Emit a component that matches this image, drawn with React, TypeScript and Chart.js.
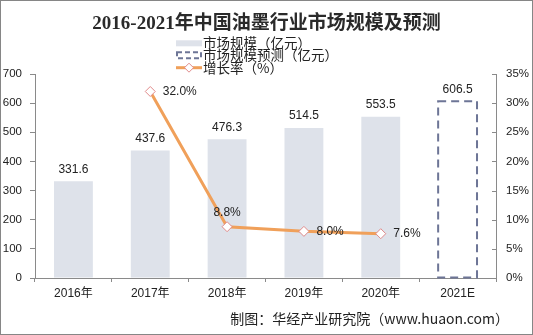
import React, { useEffect, useRef } from 'react';
import { Chart, registerables } from 'chart.js';

Chart.register(...registerables);

const titleText = '2016-2021年中国油墨行业市场规模及预测';
const categories = ['2016年', '2017年', '2018年', '2019年', '2020年', '2021E'];
const marketSize = [331.6, 437.6, 476.3, 514.5, 553.5, null];
const forecastSize = [null, null, null, null, null, 606.5];
const growthRate = [null, 32.0, 8.8, 8.0, 7.6, null];
const legendLabels = ['市场规模（亿元）', '市场规模预测（亿元）', '增长率（%）'];
const sourceText = '制图：华经产业研究院（www.huaon.com）';

const SANS = '"Liberation Sans", "Noto Sans CJK SC", sans-serif';
const CJK = '"Noto Sans CJK SC", "Liberation Sans", sans-serif';
const BAR_COLOR = '#DEE2EA';
const FORECAST_COLOR = '#6D7596';
const LINE_COLOR = '#F0A05A';
const MARKER_BORDER = '#E08A8A';
const AXIS_COLOR = '#8a8a8a';
const TEXT_COLOR = '#222';

export default function App() {
  const ref = useRef<HTMLCanvasElement>(null);

  useEffect(() => {
    document.body.style.margin = '0';
    const canvas = ref.current!;

    const overlay = {
      id: 'overlay',
      afterDatasetsDraw(chart: any) {
        const ctx = chart.ctx;
        ctx.save();
        // forecast dashed bar
        const fMeta = chart.getDatasetMeta(1);
        fMeta.data.forEach((el: any, i: number) => {
          if (forecastSize[i] == null) return;
          const p = el.getProps(['x', 'y', 'base', 'width'], true);
          ctx.save();
          ctx.strokeStyle = FORECAST_COLOR;
          ctx.lineWidth = 2;
          ctx.setLineDash([8, 5]);
          ctx.strokeRect(p.x - p.width / 2, p.y, p.width, p.base - p.y);
          ctx.restore();
        });
        // bar value labels
        ctx.font = `12px ${SANS}`;
        ctx.fillStyle = TEXT_COLOR;
        ctx.textBaseline = 'middle';
        ctx.textAlign = 'center';
        [0, 1].forEach((di) => {
          const meta = chart.getDatasetMeta(di);
          const data = chart.data.datasets[di].data;
          meta.data.forEach((el: any, i: number) => {
            const v = data[i];
            if (v == null) return;
            const p = el.getProps(['x', 'y'], true);
            ctx.fillText(Number(v).toFixed(1), p.x, p.y - 12);
          });
        });
        // growth labels
        const lMeta = chart.getDatasetMeta(2);
        lMeta.data.forEach((el: any, i: number) => {
          const v = growthRate[i];
          if (v == null) return;
          const p = el.getProps(['x', 'y'], true);
          const t = v.toFixed(1) + '%';
          if (i === 2) {
            ctx.textAlign = 'center';
            ctx.fillText(t, p.x, p.y - 14);
          } else {
            ctx.textAlign = 'left';
            ctx.fillText(t, p.x + 12.5, p.y);
          }
        });
        ctx.restore();
      },
      afterDraw(chart: any) {
        const ctx = chart.ctx;
        ctx.save();
        // right axis inner tick marks
        const y1 = chart.scales.y1;
        ctx.strokeStyle = AXIS_COLOR;
        ctx.lineWidth = 1;
        y1.ticks.forEach((t: any) => {
          const yy = Math.round(y1.getPixelForValue(t.value)) + 0.5;
          ctx.beginPath();
          ctx.moveTo(y1.left - 4, yy);
          ctx.lineTo(y1.left, yy);
          ctx.stroke();
        });
        // legend
        const sx = 176, sw = 26, tx = 203;
        const rows = [43.3, 55.3, 67.7];
        ctx.fillStyle = BAR_COLOR;
        ctx.fillRect(sx, rows[0] - 3, sw, 6);
        ctx.save();
        ctx.strokeStyle = FORECAST_COLOR;
        ctx.lineWidth = 2;
        ctx.setLineDash([5, 3]);
        ctx.strokeRect(sx + 1, rows[1] - 3, sw - 2, 6);
        ctx.restore();
        ctx.strokeStyle = LINE_COLOR;
        ctx.lineWidth = 3;
        ctx.beginPath();
        ctx.moveTo(sx, rows[2]);
        ctx.lineTo(sx + sw, rows[2]);
        ctx.stroke();
        const cx = sx + sw / 2, r = 4.5;
        ctx.beginPath();
        ctx.moveTo(cx, rows[2] - r);
        ctx.lineTo(cx + r, rows[2]);
        ctx.lineTo(cx, rows[2] + r);
        ctx.lineTo(cx - r, rows[2]);
        ctx.closePath();
        ctx.fillStyle = '#fff';
        ctx.fill();
        ctx.strokeStyle = MARKER_BORDER;
        ctx.lineWidth = 1;
        ctx.stroke();
        ctx.font = `13.5px ${CJK}`;
        ctx.fillStyle = TEXT_COLOR;
        ctx.textAlign = 'left';
        ctx.textBaseline = 'middle';
        legendLabels.forEach((l, i) => ctx.fillText(l, tx, rows[i]));
        // source
        ctx.font = `14px ${CJK}`;
        ctx.textAlign = 'right';
        ctx.fillText(sourceText, 509, 319);
        // border
        ctx.strokeStyle = '#868686';
        ctx.lineWidth = 1;
        ctx.strokeRect(0.5, 0.5, 532, 334);
        ctx.restore();
      },
    };

    const chart = new Chart(canvas, {
      type: 'bar',
      data: {
        labels: categories,
        datasets: [
          {
            type: 'bar',
            label: legendLabels[0],
            data: marketSize,
            backgroundColor: BAR_COLOR,
            borderWidth: 0,
            grouped: false,
            categoryPercentage: 1,
            barPercentage: 0.506,
            yAxisID: 'y',
            order: 2,
          },
          {
            type: 'bar',
            label: legendLabels[1],
            data: forecastSize,
            backgroundColor: 'rgba(0,0,0,0)',
            borderWidth: 0,
            grouped: false,
            categoryPercentage: 1,
            barPercentage: 0.506,
            yAxisID: 'y',
            order: 1,
          },
          {
            type: 'line',
            label: legendLabels[2],
            data: growthRate,
            borderColor: LINE_COLOR,
            borderWidth: 3,
            pointStyle: 'rectRot',
            pointRadius: 5,
            pointBackgroundColor: '#fff',
            pointBorderColor: MARKER_BORDER,
            pointBorderWidth: 1,
            tension: 0,
            yAxisID: 'y1',
            order: 0,
          },
        ] as any,
      },
      options: {
        animation: false,
        responsive: false,
        events: [],
        layout: { padding: 0 },
        plugins: {
          legend: { display: false },
          tooltip: { enabled: false },
          title: {
            display: true,
            text: titleText,
            color: '#2a2a2a',
            font: { size: 19, weight: 'bold', family: '"Liberation Serif", "Noto Sans CJK SC", serif' },
            padding: { top: 13, bottom: 38.2 },
          },
        },
        scales: {
          x: {
            grid: { drawOnChartArea: false, color: AXIS_COLOR, tickLength: 4, offset: true },
            border: { color: AXIS_COLOR },
            ticks: { color: TEXT_COLOR, font: { size: 12, family: SANS }, padding: 4, maxRotation: 0 },
            afterFit: (s: any) => { s.height = 57; },
          },
          y: {
            position: 'left',
            min: 0,
            max: 700,
            ticks: { stepSize: 100, color: TEXT_COLOR, font: { size: 11.5, family: SANS }, padding: 8 },
            grid: { drawOnChartArea: false, color: AXIS_COLOR, tickLength: 5 },
            border: { color: AXIS_COLOR },
            afterFit: (s: any) => { s.width = 35; },
          },
          y1: {
            position: 'right',
            min: 0,
            max: 35,
            ticks: { stepSize: 5, color: TEXT_COLOR, font: { size: 11.5, family: SANS }, padding: 10, callback: (v: any) => v + '%' },
            grid: { drawOnChartArea: false, drawTicks: false, color: AXIS_COLOR },
            border: { color: AXIS_COLOR },
            afterFit: (s: any) => { s.width = 37; },
          },
        },
      } as any,
      plugins: [overlay],
    });
    return () => chart.destroy();
  }, []);

  return (
    <div style={{ width: 533, height: 335, background: '#fff' }}>
      <canvas ref={ref} width={533} height={335} style={{ display: 'block' }} />
    </div>
  );
}
